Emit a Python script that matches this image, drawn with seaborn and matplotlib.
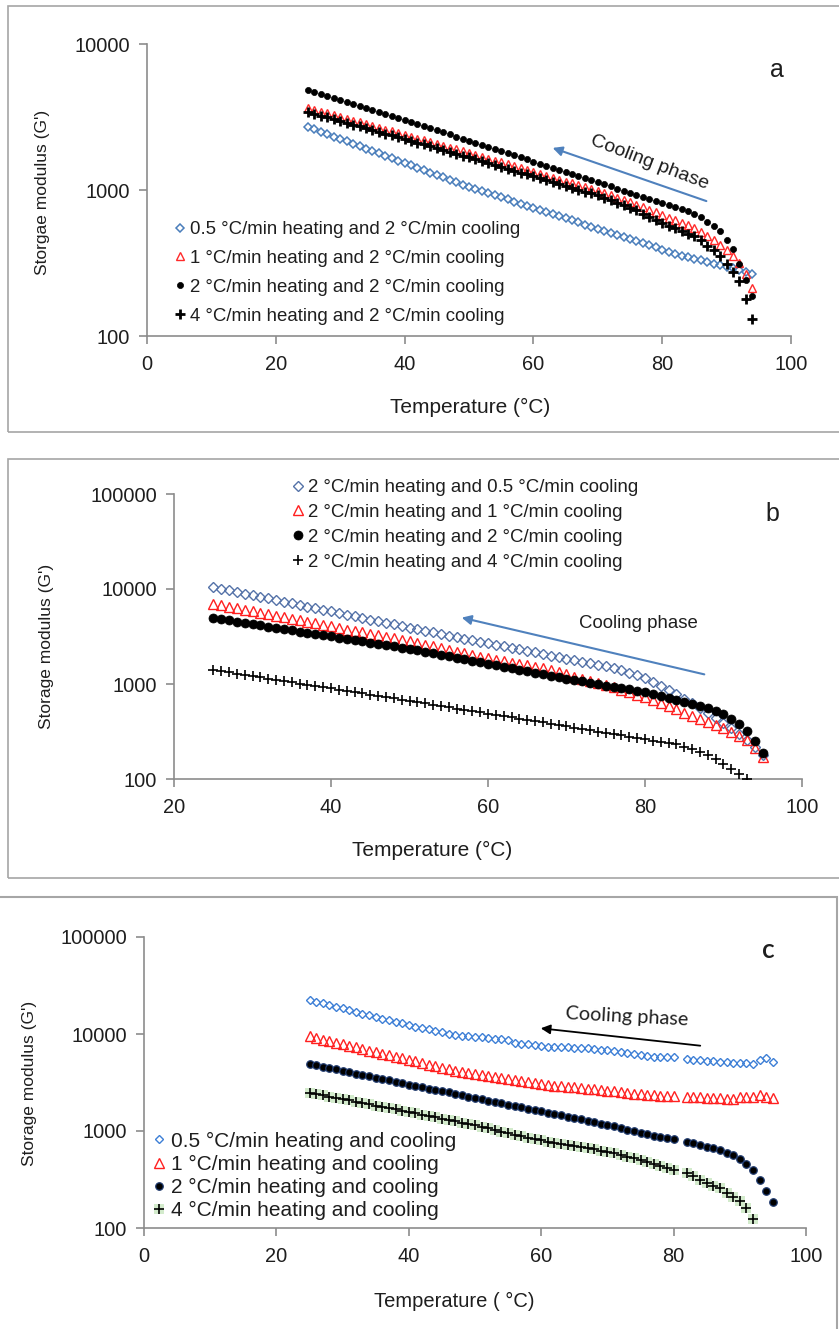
import matplotlib
matplotlib.use("Agg")
import matplotlib.pyplot as plt
import seaborn as sns
import pandas as pd
from matplotlib.patches import Rectangle, FancyArrowPatch
from matplotlib.ticker import FixedLocator, NullLocator

# ---- data (storage modulus G' vs temperature) ----
temp_a = [25, 26, 27, 28, 29, 30, 31, 32, 33, 34, 35, 36, 37, 38, 39, 40, 41, 42, 43, 44,
          45, 46, 47, 48, 49, 50, 51, 52, 53, 54, 55, 56, 57, 58, 59, 60, 61, 62, 63, 64,
          65, 66, 67, 68, 69, 70, 71, 72, 73, 74, 75, 76, 77, 78, 79, 80, 81, 82, 83, 84,
          85, 86, 87, 88, 89, 90, 91, 92, 93, 94]
a_heat05 = [2701, 2601, 2504, 2411, 2322, 2236, 2153, 2073, 1996, 1922,
            1851, 1782, 1716, 1652, 1591, 1532, 1475, 1420, 1368, 1317,
            1268, 1221, 1176, 1132, 1090, 1050, 1016, 983, 951, 920,
            890, 861, 834, 807, 781, 755, 731, 707, 684, 662,
            641, 620, 600, 580, 562, 543, 526, 509, 492, 476,
            461, 446, 431, 417, 404, 391, 378, 366, 354, 345,
            337, 329, 320, 313, 305, 298, 290, 282, 274, 267]
a_heat1 = [3645, 3543, 3443, 3347, 3253, 3162, 3074, 2988, 2904, 2823,
           2744, 2667, 2593, 2520, 2449, 2381, 2314, 2250, 2187, 2126,
           2066, 2008, 1952, 1897, 1844, 1792, 1739, 1688, 1638, 1590,
           1543, 1497, 1453, 1410, 1369, 1328, 1289, 1251, 1214, 1178,
           1143, 1110, 1077, 1045, 1014, 984, 951, 918, 887, 857,
           828, 794, 762, 732, 702, 674, 647, 621, 596, 572,
           549, 516, 484, 451, 420, 388, 353, 316, 266, 213]
a_heat2 = [4842, 4691, 4545, 4404, 4267, 4134, 4006, 3881, 3760, 3643,
           3530, 3420, 3314, 3211, 3111, 3014, 2920, 2830, 2739, 2650,
           2565, 2482, 2402, 2324, 2249, 2177, 2106, 2038, 1972, 1909,
           1847, 1787, 1730, 1674, 1620, 1567, 1517, 1468, 1420, 1374,
           1330, 1287, 1246, 1205, 1166, 1129, 1092, 1057, 1023, 990,
           958, 927, 897, 868, 840, 813, 787, 761, 737, 713,
           690, 653, 604, 567, 524, 455, 394, 311, 242, 188]
a_heat4 = [3421, 3325, 3232, 3142, 3054, 2968, 2885, 2805, 2726, 2650,
           2576, 2504, 2433, 2365, 2299, 2235, 2172, 2111, 2051, 1992,
           1935, 1879, 1825, 1773, 1722, 1672, 1623, 1575, 1529, 1484,
           1440, 1397, 1356, 1316, 1277, 1240, 1203, 1168, 1133, 1100,
           1067, 1036, 1005, 976, 947, 919, 883, 849, 817, 785,
           755, 726, 690, 656, 624, 593, 569, 546, 524, 503,
           483, 455, 413, 388, 353, 311, 274, 238, 179, 131]

temp_b = [25, 26, 27, 28, 29, 30, 31, 32, 33, 34, 35, 36, 37, 38, 39, 40, 41, 42, 43, 44,
          45, 46, 47, 48, 49, 50, 51, 52, 53, 54, 55, 56, 57, 58, 59, 60, 61, 62, 63, 64,
          65, 66, 67, 68, 69, 70, 71, 72, 73, 74, 75, 76, 77, 78, 79, 80, 81, 82, 83, 84,
          85, 86, 87, 88, 89, 90, 91, 92, 93, 94, 95]
b_cool05 = [10498, 10092, 9701, 9326, 8965, 8618, 8285, 7964, 7656, 7360,
            7075, 6801, 6538, 6285, 6042, 5808, 5583, 5367, 5159, 4960,
            4768, 4583, 4406, 4235, 4071, 3914, 3762, 3623, 3490, 3361,
            3237, 3118, 3003, 2892, 2785, 2684, 2586, 2492, 2401, 2314,
            2230, 2148, 2070, 1995, 1922, 1852, 1785, 1720, 1657, 1597,
            1539, 1483, 1394, 1312, 1235, 1157, 1050, 953, 865, 779,
            702, 631, 559, 495, 439, 389, 344, 298, 257, 217, 179]
b_cool1 = [6952, 6704, 6464, 6234, 6011, 5797, 5590, 5390, 5198, 5012,
           4833, 4661, 4494, 4334, 4179, 4030, 3886, 3747, 3614, 3485,
           3360, 3240, 3125, 3013, 2906, 2802, 2702, 2590, 2482, 2379,
           2281, 2186, 2095, 2008, 1925, 1861, 1798, 1738, 1680, 1624,
           1570, 1517, 1467, 1394, 1325, 1259, 1197, 1138, 1081, 1028,
           977, 928, 874, 822, 774, 729, 676, 627, 582, 540,
           501, 464, 431, 400, 369, 341, 315, 287, 257, 212, 170]
b_cool2 = [4951, 4806, 4664, 4527, 4394, 4265, 4140, 4018, 3900, 3785,
           3674, 3566, 3461, 3359, 3261, 3165, 3072, 2981, 2894, 2809,
           2726, 2646, 2568, 2493, 2419, 2348, 2279, 2198, 2119, 2044,
           1971, 1900, 1833, 1767, 1704, 1641, 1581, 1522, 1466, 1412,
           1360, 1310, 1261, 1219, 1178, 1139, 1101, 1064, 1029, 994,
           961, 929, 902, 876, 851, 827, 788, 750, 715, 681,
           649, 618, 589, 561, 520, 483, 433, 379, 320, 251, 188]
temp_b4 = [25, 26, 27, 28, 29, 30, 31, 32, 33, 34, 35, 36, 37, 38, 39, 40, 41, 42, 43, 44,
           45, 46, 47, 48, 49, 50, 51, 52, 53, 54, 55, 56, 57, 58, 59, 60, 61, 62, 63, 64,
           65, 66, 67, 68, 69, 70, 71, 72, 73, 74, 75, 76, 77, 78, 79, 80, 81, 82, 83, 84,
           85, 86, 87, 88, 89, 90, 91, 92, 93]
b_cool4 = [1404, 1363, 1323, 1284, 1246, 1209, 1174, 1139, 1106, 1073,
           1042, 1011, 981, 952, 924, 897, 871, 845, 820, 796,
           773, 750, 728, 707, 686, 666, 646, 626, 607, 588,
           570, 552, 535, 518, 502, 487, 472, 458, 445, 431,
           419, 406, 394, 382, 370, 359, 348, 337, 326, 316,
           306, 297, 288, 279, 270, 262, 254, 246, 238, 231,
           219, 207, 192, 179, 162, 144, 127, 113, 100]

temp_c = [25, 26, 27, 28, 29, 30, 31, 32, 33, 34, 35, 36, 37, 38, 39, 40, 41, 42, 43, 44,
          45, 46, 47, 48, 49, 50, 51, 52, 53, 54, 55, 56, 57, 58, 59, 60, 61, 62, 63, 64,
          65, 66, 67, 68, 69, 70, 71, 72, 73, 74, 75, 76, 77, 78, 79, 80, 82, 83, 84,
          85, 86, 87, 88, 89, 90, 91, 92, 93, 94, 95]
c_rate05 = [22414, 21529, 20679, 19862, 19078, 18325, 17601, 16906, 16238, 15597,
            14981, 14422, 13884, 13366, 12868, 12388, 11926, 11509, 11133, 10769,
            10417, 10076, 9765, 9627, 9492, 9358, 9226, 9096, 8968, 8842,
            8672, 8172, 7981, 7848, 7701, 7557, 7431, 7345, 7310, 7276,
            7241, 7207, 7173, 7038, 6906, 6776, 6649, 6524, 6371, 6221,
            6075, 5932, 5793, 5760, 5850, 5800,
            5525, 5420, 5390, 5260, 5230, 5120, 5150, 5060, 4980, 5010, 4880, 5395, 5657, 5144]
c_rate1 = [9424, 9082, 8752, 8435, 8129, 7834, 7549, 7275, 7011, 6757,
           6511, 6275, 6047, 5828, 5616, 5412, 5216, 5021, 4834, 4654,
           4480, 4313, 4202, 4093, 3988, 3885, 3784, 3695, 3608, 3524,
           3441, 3360, 3281, 3204, 3129, 3055, 2983, 2941, 2900, 2859,
           2818, 2779, 2733, 2688, 2643, 2600, 2557, 2515, 2473, 2432,
           2392, 2353, 2334, 2317, 2306, 2295,
           2241, 2231, 2215, 2204, 2188, 2178, 2158, 2138, 2241, 2215, 2268, 2350, 2268, 2188]
c_rate2 = [4906, 4749, 4596, 4449, 4306, 4168, 4034, 3905, 3779, 3658,
           3541, 3427, 3317, 3211, 3108, 3008, 2911, 2823, 2737, 2653,
           2573, 2495, 2416, 2340, 2266, 2195, 2126, 2059, 1994, 1931,
           1870, 1811, 1754, 1699, 1645, 1593, 1543, 1494, 1447, 1402,
           1357, 1315, 1272, 1230, 1190, 1151, 1113, 1072, 1032, 993,
           956, 921, 895, 870, 845, 822,
           776, 747, 722, 692, 665, 637, 600, 566, 514, 462, 392, 313, 241, 187]
temp_c4 = [25, 26, 27, 28, 29, 30, 31, 32, 33, 34, 35, 36, 37, 38, 39, 40, 41, 42, 43, 44,
           45, 46, 47, 48, 49, 50, 51, 52, 53, 54, 55, 56, 57, 58, 59, 60, 61, 62, 63, 64,
           65, 66, 67, 68, 69, 70, 71, 72, 73, 74, 75, 76, 77, 78, 79, 80, 82, 83, 84,
           85, 86, 87, 88, 89, 90, 91, 92]
c_rate4 = [2482, 2407, 2334, 2264, 2196, 2129, 2065, 2003, 1942, 1884,
           1827, 1772, 1718, 1666, 1616, 1567, 1520, 1472, 1426, 1382,
           1338, 1296, 1256, 1217, 1178, 1141, 1106, 1063, 1022, 983,
           945, 908, 880, 852, 826, 800, 775, 757, 739, 722,
           705, 688, 667, 646, 626, 607, 588, 566, 544, 523,
           503, 483, 461, 439, 419, 399,
           366, 340, 316, 291, 271, 257, 230, 210, 190, 161, 123]

labels_a = ["0.5 °C/min heating and 2 °C/min cooling",
            "1 °C/min heating and 2 °C/min cooling",
            "2 °C/min heating and 2 °C/min cooling",
            "4 °C/min heating and 2 °C/min cooling"]
labels_b = ["2 °C/min heating and 0.5 °C/min cooling",
            "2 °C/min heating and 1 °C/min cooling",
            "2 °C/min heating and 2 °C/min cooling",
            "2 °C/min heating and 4 °C/min cooling"]
labels_c = ["0.5 °C/min heating and cooling",
            "1 °C/min heating and cooling",
            "2 °C/min heating and cooling",
            "4 °C/min heating and cooling"]

W, H = 839, 1329
TXT = "#1e1e1e"
GRAY = "#8c8c8c"


def fx(x):
    return x / W


def fy(y):
    return 1 - y / H


sns.set_theme(style="ticks")
plt.rcParams['font.family'] = ['Liberation Sans', 'DejaVu Sans']

fig = plt.figure(figsize=(W / 100, H / 100), dpi=100)
fig.patch.set_facecolor('white')

# panel frames
fig.add_artist(Rectangle((fx(8), fy(432)), (850 - 8) / W, (432 - 6) / H, transform=fig.transFigure,
                         fill=False, edgecolor='#a6a6a6', lw=1.2))
fig.add_artist(Rectangle((fx(8), fy(878)), (850 - 8) / W, (878 - 459) / H, transform=fig.transFigure,
                         fill=False, edgecolor='#a6a6a6', lw=1.2))
fig.add_artist(Rectangle((fx(-10), fy(1340)), (837 + 10) / W, (1340 - 897) / H, transform=fig.transFigure,
                         fill=False, edgecolor='#a6a6a6', lw=1.5))

ax_a = fig.add_axes([fx(147), fy(336), 644 / W, 292 / H])
ax_b = fig.add_axes([fx(174), fy(779), 628 / W, 285 / H])
ax_c = fig.add_axes([fx(144), fy(1228), 662 / W, 291 / H])


def draw(ax, temps, values, marker, ms, face, edge, mew, z):
    df = pd.DataFrame({'T': temps, 'G': values})
    sns.lineplot(data=df, x='T', y='G', ax=ax, marker=marker, linestyle='', markersize=ms,
                 markerfacecolor=face, markeredgecolor=edge, markeredgewidth=mew,
                 color=edge, errorbar=None, zorder=z)
    return ax.lines[-1]


def style_axis(ax, xlim, xticks, ylim, yticks):
    ax.set_yscale('log')
    ax.set_xlim(*xlim)
    ax.set_ylim(*ylim)
    ax.set_xticks(xticks)
    ax.set_xticklabels([str(t) for t in xticks])
    ax.yaxis.set_major_locator(FixedLocator(yticks))
    ax.yaxis.set_minor_locator(NullLocator())
    ax.set_yticklabels([str(t) for t in yticks])
    for s in ['top', 'right']:
        ax.spines[s].set_visible(False)
    for s in ['left', 'bottom']:
        ax.spines[s].set_color(GRAY)
        ax.spines[s].set_linewidth(1.2)
    ax.tick_params(direction='out', length=6, width=1.2, color=GRAY, labelsize=14.4,
                   labelcolor=TXT)
    ax.tick_params(axis='x', pad=8)
    ax.tick_params(axis='y', pad=6)
    ax.set_xlabel('')
    ax.set_ylabel('')
    ax.patch.set_alpha(0)


def legend(ax, handles, labels, x0, top, size, spacing):
    ax.legend(handles, labels, loc='upper left', bbox_to_anchor=(fx(x0), fy(top)),
              bbox_transform=fig.transFigure, frameon=False, fontsize=size, handlelength=0.5,
              handletextpad=0.3, labelspacing=spacing, borderpad=0, borderaxespad=0,
              numpoints=1, labelcolor=TXT)


# ---- panel a ----
h1 = draw(ax_a, temp_a, a_heat05, 'D', 4.1, 'none', '#4a7ebb', 1.1, 3)
h2 = draw(ax_a, temp_a, a_heat1, '^', 6.0, 'none', '#ff2a2a', 1.0, 4)
h3 = draw(ax_a, temp_a, a_heat2, 'o', 4.4, 'black', 'black', 0.5, 5)
h4 = draw(ax_a, temp_a, a_heat4, '+', 6.5, 'black', 'black', 2.0, 6)
style_axis(ax_a, (0, 100), [0, 20, 40, 60, 80, 100], (100, 10000), [100, 1000, 10000])
legend(ax_a, [h1, h2, h3, h4], labels_a, 175.3, 221, 13.4, 0.64)
fig.text(fx(777), fy(70), 'a', fontsize=18, ha='center', va='center', color=TXT)
fig.text(fx(650), fy(163), 'Cooling phase', fontsize=14, rotation=-21, ha='center', va='center',
         color=TXT, rotation_mode='anchor')
fig.add_artist(FancyArrowPatch((fx(709), fy(202)), (fx(550), fy(147)), transform=fig.transFigure,
                               arrowstyle='-|>', mutation_scale=14, color='#4f81bd', lw=1.5))
fig.text(fx(43), fy(192), "Storgae modulus (G')", fontsize=12.5, rotation=90, ha='center', va='center', color=TXT)
fig.text(fx(470), fy(407), 'Temperature (°C)', fontsize=15, ha='center', va='center', color=TXT)

# ---- panel b ----
g1 = draw(ax_b, temp_b, b_cool05, 'D', 4.8, 'none', '#5472a8', 1.0, 3)
g2 = draw(ax_b, temp_b, b_cool1, '^', 7.4, 'none', '#ff1f1f', 1.0, 4)
g3 = draw(ax_b, temp_b, b_cool2, 'o', 6.5, 'black', 'black', 0.5, 5)
g4 = draw(ax_b, temp_b4, b_cool4, '+', 7.0, 'black', 'black', 1.2, 6)
style_axis(ax_b, (20, 100), [20, 40, 60, 80, 100], (100, 100000), [100, 1000, 10000, 100000])
legend(ax_b, [g1, g2, g3, g4], labels_b, 293.3, 479, 13.4, 0.42)
fig.text(fx(772), fy(514), 'b', fontsize=18, ha='center', va='center', color=TXT)
fig.text(fx(638), fy(623), 'Cooling phase', fontsize=13.4, ha='center', va='center', color=TXT)
fig.add_artist(FancyArrowPatch((fx(707), fy(675)), (fx(459), fy(617)), transform=fig.transFigure,
                               arrowstyle='-|>', mutation_scale=14, color='#4f81bd', lw=1.5))
fig.text(fx(47), fy(646), "Storage modulus (G')", fontsize=12.5, rotation=90, ha='center', va='center', color=TXT)
fig.text(fx(432), fy(850), 'Temperature (°C)', fontsize=15, ha='center', va='center', color=TXT)

# ---- panel c ----
k1 = draw(ax_c, temp_c, c_rate05, 'D', 4.5, 'none', '#3d7fd6', 1.0, 3)
k2 = draw(ax_c, temp_c, c_rate1, '^', 6.5, 'none', '#ff2020', 1.0, 4)
k3 = draw(ax_c, temp_c, c_rate2, 'o', 5.4, 'black', '#1f3a6e', 0.9, 5)
k4g = draw(ax_c, temp_c4, c_rate4, 's', 7.0, '#d3ebcc', '#d3ebcc', 0.0, 6)
k4 = draw(ax_c, temp_c4, c_rate4, '+', 7.0, 'black', 'black', 1.2, 7)
style_axis(ax_c, (0, 100), [0, 20, 40, 60, 80, 100], (100, 100000), [100, 1000, 10000, 100000])
legend(ax_c, [k1, k2, k3, (k4g, k4)], labels_c, 154, 1131.5, 15, 0.2)
fig.text(fx(768), fy(950), 'c', fontsize=19, ha='center', va='center', color=TXT,
         family=['Lato', 'DejaVu Sans'], weight='semibold')
fig.text(fx(627), fy(1017), 'Cooling phase', fontsize=14.3, rotation=-3, ha='center', va='center',
         color=TXT, family=['Lato', 'DejaVu Sans'], rotation_mode='anchor')
fig.add_artist(FancyArrowPatch((fx(703), fy(1046)), (fx(538), fy(1028)), transform=fig.transFigure,
                               arrowstyle='-|>', mutation_scale=14, color='black', lw=1.3))
fig.text(fx(30), fy(1083), "Storage modulus (G')", fontsize=12.5, rotation=90, ha='center', va='center', color=TXT)
fig.text(fx(454), fy(1301), 'Temperature ( °C)', fontsize=14.5, ha='center', va='center', color=TXT)

fig.savefig('out.png', dpi=100)
